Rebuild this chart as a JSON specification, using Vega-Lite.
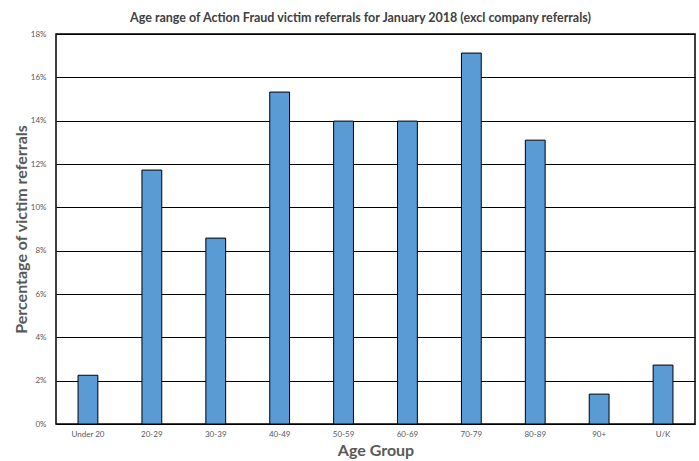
{
  "$schema": "https://vega.github.io/schema/vega-lite/v6.json",
  "width": 639,
  "height": 390,
  "autosize": "none",
  "padding": {"left": 56, "top": 34, "right": 4, "bottom": 37},
  "background": "white",
  "title": {
    "text": "Age range of Action Fraud victim referrals for January 2018 (excl company referrals)",
    "font": "Lato",
    "fontSize": 12.5,
    "fontWeight": "bold",
    "color": "#404040",
    "anchor": "middle",
    "dx": -15,
    "offset": 6
  },
  "data": {
    "values": [
      {"age": "Under 20", "pct": 0.0225},
      {"age": "20-29", "pct": 0.1172},
      {"age": "30-39", "pct": 0.0858},
      {"age": "40-49", "pct": 0.1532},
      {"age": "50-59", "pct": 0.1398},
      {"age": "60-69", "pct": 0.1398},
      {"age": "70-79", "pct": 0.1712},
      {"age": "80-89", "pct": 0.1310},
      {"age": "90+", "pct": 0.0138},
      {"age": "U/K", "pct": 0.0272}
    ]
  },
  "mark": {"type": "bar", "color": "#5B9BD5", "stroke": "#000000", "strokeWidth": 1},
  "encoding": {
    "x": {
      "field": "age",
      "type": "nominal",
      "sort": null,
      "scale": {"paddingInner": 0.69, "paddingOuter": 0.345},
      "axis": {
        "title": "Age Group",
        "titleFont": "Lato",
        "titleFontSize": 16,
        "titleFontWeight": "bold",
        "titleColor": "#595959",
        "titlePadding": 4,
        "labelFont": "Lato",
        "labelFontSize": 8,
        "labelColor": "#595959",
        "labelAngle": 0,
        "labelPadding": 6,
        "ticks": false,
        "domain": false,
        "grid": false
      }
    },
    "y": {
      "field": "pct",
      "type": "quantitative",
      "scale": {"domain": [0, 0.18], "nice": false},
      "axis": {
        "title": "Percentage of victim referrals",
        "titleFont": "Lato",
        "titleFontSize": 16,
        "titleFontWeight": "bold",
        "titleColor": "#595959",
        "titlePadding": 1,
        "format": ".0%",
        "values": [0, 0.02, 0.04, 0.06, 0.08, 0.1, 0.12, 0.14, 0.16, 0.18],
        "labelFont": "Lato",
        "labelFontSize": 8,
        "labelColor": "#595959",
        "labelPadding": 10,
        "ticks": false,
        "domain": false,
        "grid": true,
        "gridColor": "#000000",
        "gridWidth": 1,
        "gridOpacity": 1
      }
    }
  },
  "config": {
    "view": {"stroke": "#000000", "strokeWidth": 1.5}
  }
}
